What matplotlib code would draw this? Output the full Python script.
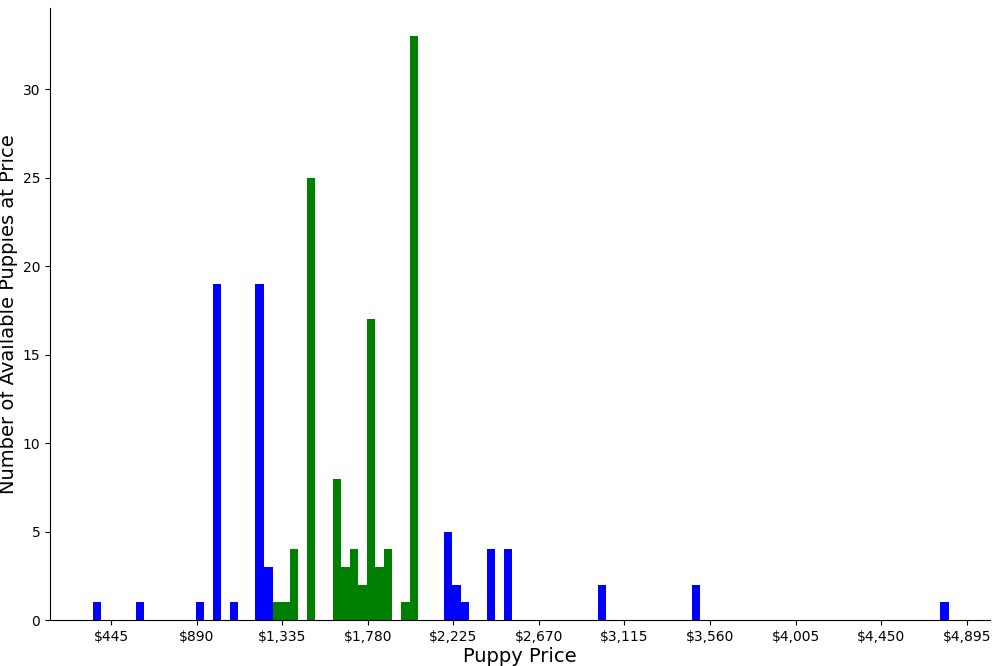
import numpy as np
import matplotlib.pyplot as plt

# histogram: 100 bins starting at $351, width $44.5
bin_start = 351.0
bin_width = 44.5
bin_index = [0, 5, 12, 14, 16, 19, 20, 21, 22, 23, 25, 28, 29, 30, 31, 32, 33, 34,
             36, 37, 41, 42, 43, 46, 48, 59, 70, 99]
counts = [1, 1, 1, 19, 1, 19, 3, 1, 1, 4, 25, 8, 3, 4, 2, 17, 3, 4,
          1, 33, 5, 2, 1, 4, 4, 2, 2, 1]
green_bins = range(21, 38)
tick_values = [445 * k for k in range(1, 12)]

fig = plt.figure(figsize=(10, 6.66), dpi=100)
ax = fig.add_axes([0.05, 0.069, 0.94, 0.919])

lefts = bin_start + np.array(bin_index) * bin_width
colors = ['green' if i in green_bins else 'blue' for i in bin_index]
ax.bar(lefts, counts, width=bin_width, align='edge', color=colors)

ax.set_xticks(tick_values)
ax.set_xticklabels(['${:,}'.format(v) for v in tick_values], fontsize=10)
ax.tick_params(axis='y', labelsize=10)
ax.set_xlim(128, 5016)
ax.set_ylim(0, 34.6)
ax.set_xlabel('Puppy Price', fontsize=14, labelpad=2)
ax.set_ylabel('Number of Available Puppies at Price', fontsize=14, labelpad=3)
ax.spines['top'].set_visible(False)
ax.spines['right'].set_visible(False)

fig.savefig('out.png')
